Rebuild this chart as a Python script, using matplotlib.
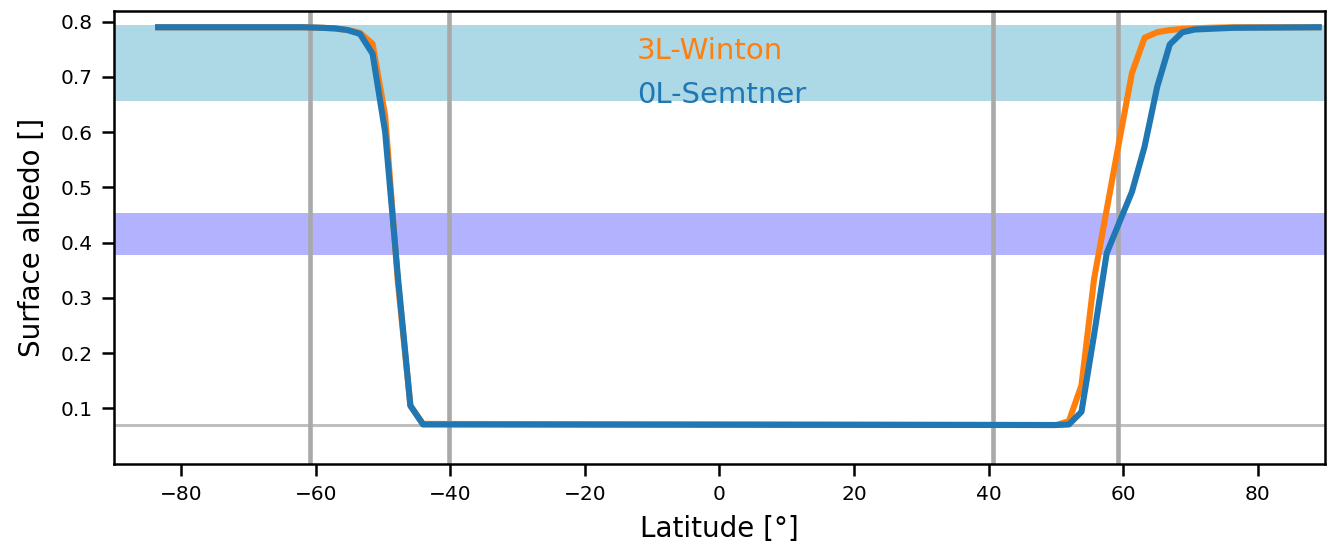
import matplotlib
matplotlib.use("Agg")
import matplotlib.pyplot as plt

# latitude grid points where the curves change (flat runs kept as end points)
lat = [-83.44, -61.88, -59.06, -57.19, -55.31, -53.44, -51.56, -49.69, -47.81,
       -45.94, -44.06, 50.06, 51.94, 53.81, 55.69, 57.56, 59.44, 61.31, 63.19,
       65.06, 66.94, 68.81, 70.69, 72.56, 76.31, 89.06]

albedo_winton = [0.790, 0.790, 0.789, 0.788, 0.785, 0.780, 0.760, 0.630, 0.330,
                 0.105, 0.072, 0.070, 0.077, 0.142, 0.335, 0.460, 0.585, 0.707,
                 0.771, 0.781, 0.785, 0.787, 0.788, 0.789, 0.790, 0.790]

albedo_semtner = [0.790, 0.790, 0.789, 0.788, 0.785, 0.778, 0.742, 0.600, 0.340,
                  0.105, 0.071, 0.070, 0.071, 0.094, 0.234, 0.381, 0.437, 0.492,
                  0.574, 0.682, 0.759, 0.781, 0.786, 0.787, 0.789, 0.790]

ice_band = (0.657, 0.794)
snow_band = (0.378, 0.453)
ocean_albedo = 0.07
edge_lats = [-60.8, -40.2, 40.6, 59.3]

plt.rcParams["font.family"] = "DejaVu Sans"

fig = plt.figure(figsize=(13.3, 5.54), dpi=100)
ax = fig.add_axes([0.0857, 0.163, 0.9105, 0.8177])

ax.axhspan(*ice_band, color="lightblue", lw=0, zorder=0)
ax.axhspan(*snow_band, color="blue", alpha=0.3, lw=0, zorder=0)
ax.axhline(ocean_albedo, color="grey", alpha=0.5, lw=2.2, zorder=1)
for la in edge_lats:
    ax.axvline(la, color="darkgrey", lw=3.3, zorder=1)

ax.plot(lat, albedo_winton, color="#ff7f0e", lw=4.4, zorder=3)
ax.plot(lat, albedo_semtner, color="#1f77b4", lw=4.4, zorder=4)

ax.text(0.432, 0.732, "3L-Winton", color="#ff7f0e", fontsize=21,
        transform=ax.get_yaxis_transform(), va="baseline", ha="left", zorder=5)
ax.text(0.432, 0.653, "0L-Semtner", color="#1f77b4", fontsize=21,
        transform=ax.get_yaxis_transform(), va="baseline", ha="left", zorder=5)

ax.set_xlim(-90, 90)
ax.set_ylim(0, 0.82)
ax.set_xticks([-80, -60, -40, -20, 0, 20, 40, 60, 80])
ax.set_yticks([0.1, 0.2, 0.3, 0.4, 0.5, 0.6, 0.7, 0.8])
ax.tick_params(labelsize=14.5, length=8.5, width=1.8, pad=7)
for sp in ax.spines.values():
    sp.set_linewidth(1.8)

ax.set_xlabel("Latitude [°]", fontsize=20, labelpad=8)
ax.set_ylabel("Surface albedo []", fontsize=20, labelpad=10)

fig.savefig("out.png", dpi=100)
